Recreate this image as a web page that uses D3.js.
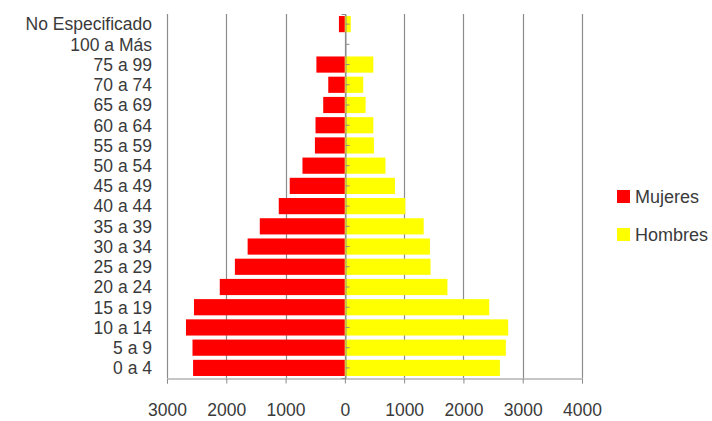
<!DOCTYPE html>
<html>
<head>
<meta charset="utf-8">
<script src="https://cdn.jsdelivr.net/npm/d3@7"></script>
<style>
  body { margin: 0; background: #fff; }
  svg text { font-family: "Liberation Sans", Arial, sans-serif; fill: #3a3a3a; }
</style>
</head>
<body>
<div id="chart"></div>
<script>
const categories = ["No Especificado", "100 a Más", "75 a 99", "70 a 74", "65 a 69", "60 a 64",
    "55 a 59", "50 a 54", "45 a 49", "40 a 44", "35 a 39", "30 a 34", "25 a 29",
    "20 a 24", "15 a 19", "10 a 14", "5 a 9", "0 a 4"];
const mujeres = [100, 0, 480, 280, 365, 495, 505, 715, 930, 1115, 1435, 1640, 1855, 2110, 2545, 2680, 2570, 2560];
const hombres = [100, 0, 480, 310, 350, 480, 490, 685, 845, 1020, 1330, 1435, 1445, 1730, 2435, 2755, 2715, 2615];
const xTicks = [-3000, -2000, -1000, 0, 1000, 2000, 3000, 4000];
const series = [
    { name: "Mujeres", color: "#ff0000" },
    { name: "Hombres", color: "#ffff00" }
];

const width = 712, height = 421;
const margin = { top: 14, right: 130, bottom: 43, left: 167 };

const svg = d3.select("#chart").append("svg")
    .attr("width", width)
    .attr("height", height);

const x = d3.scaleLinear()
    .domain([-3000, 4000])
    .range([margin.left, width - margin.right]);

const y = d3.scaleBand()
    .domain(categories)
    .range([margin.top, height - margin.bottom])
    .paddingInner(0.2)
    .paddingOuter(0.1);

// gridlines
svg.append("g")
    .selectAll("line")
    .data(xTicks)
    .enter()
    .append("line")
    .attr("x1", d => Math.round(x(d)) + 0.5)
    .attr("x2", d => Math.round(x(d)) + 0.5)
    .attr("y1", margin.top)
    .attr("y2", height - margin.bottom)
    .attr("stroke", "#8c8c8c")
    .attr("stroke-width", 1.2);

// bars
const rows = categories.map((c, i) => ({ cat: c, m: mujeres[i], h: hombres[i] }));

svg.append("g")
    .selectAll("rect")
    .data(rows)
    .enter()
    .append("rect")
    .attr("x", d => x(-d.m))
    .attr("y", d => y(d.cat))
    .attr("width", d => x(0) - x(-d.m))
    .attr("height", y.bandwidth())
    .attr("fill", series[0].color);

svg.append("g")
    .selectAll("rect")
    .data(rows)
    .enter()
    .append("rect")
    .attr("x", x(0))
    .attr("y", d => y(d.cat))
    .attr("width", d => x(d.h) - x(0))
    .attr("height", y.bandwidth())
    .attr("fill", series[1].color);

// vertical axis at zero
const yAxis = svg.append("g")
    .attr("transform", `translate(${Math.round(x(0)) + 0.5},0)`)
    .call(d3.axisLeft(y).tickSize(4).tickFormat(""));
yAxis.select(".domain").attr("stroke", "#8c8c8c");
yAxis.selectAll(".tick line").attr("stroke", "#8c8c8c").attr("transform", "translate(4,0)");

// category labels
svg.append("g")
    .selectAll("text")
    .data(categories)
    .enter()
    .append("text")
    .attr("x", 152)
    .attr("y", d => y(d) + y.bandwidth() / 2)
    .attr("dy", "0.36em")
    .attr("text-anchor", "end")
    .attr("font-size", "17.5px")
    .text(d => d);

// bottom axis
const xAxis = svg.append("g")
    .attr("transform", `translate(0,${height - margin.bottom + 0.5})`)
    .call(d3.axisBottom(x).tickValues(xTicks).tickSize(5).tickFormat(d => Math.abs(d)));
xAxis.select(".domain").attr("stroke", "#8c8c8c");
xAxis.selectAll(".tick line").attr("stroke", "#8c8c8c");
xAxis.selectAll(".tick text")
    .attr("y", 25)
    .attr("font-size", "17.5px")
    .style("font-family", "'Liberation Sans', Arial, sans-serif")
    .attr("fill", "#3a3a3a");

// legend
const legend = svg.append("g")
    .selectAll("g")
    .data(series)
    .enter()
    .append("g")
    .attr("transform", (d, i) => `translate(617,${190 + i * 38})`);

legend.append("rect")
    .attr("width", 13)
    .attr("height", 13)
    .attr("fill", d => d.color);

legend.append("text")
    .attr("x", 18)
    .attr("y", 13)
    .attr("font-size", "18px")
    .text(d => d.name);
</script>
</body>
</html>
